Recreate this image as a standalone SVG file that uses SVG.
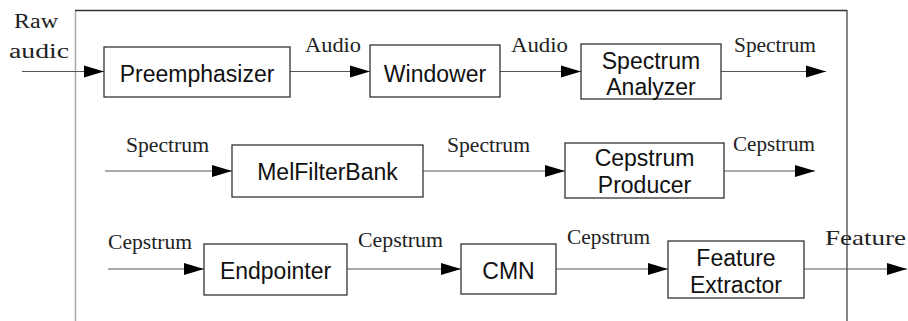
<svg xmlns="http://www.w3.org/2000/svg" width="908" height="321" viewBox="0 0 908 321">
<style>
.box{fill:#fff;stroke:#333;stroke-width:1.3}
.t{font-family:"Liberation Sans",Arial,sans-serif;font-size:23px;fill:#111;text-anchor:middle}
.lbl{font-family:"Liberation Serif","Times New Roman",serif;font-size:20px;fill:#222}
.c{stroke:#555;stroke-width:1.2;fill:none;marker-end:url(#ah)}
</style>
<defs>
<marker id="ah" markerUnits="userSpaceOnUse" markerWidth="20" markerHeight="14" refX="20" refY="7" orient="auto">
<path d="M0,1 L20,7 L0,13 Z" fill="#000"/>
</marker>
</defs>
<rect width="908" height="321" fill="#fff"/>
<g id="frame">
<line x1="75.5" y1="10.5" x2="75.5" y2="321" stroke="#aaa" stroke-width="1.5"/>
<line x1="75" y1="10.5" x2="847" y2="10.5" stroke="#333" stroke-width="1.3"/>
<line x1="847" y1="10" x2="847" y2="321" stroke="#444" stroke-width="1.3"/>
</g>
<g id="connectors">
<line class="c" x1="22" y1="71.5" x2="104" y2="71.5"/>
<line class="c" x1="290" y1="71.5" x2="370" y2="71.5"/>
<line class="c" x1="500" y1="71.5" x2="581" y2="71.5"/>
<line class="c" x1="721" y1="71.5" x2="826" y2="71.5"/>
<line class="c" x1="105" y1="171" x2="232" y2="171"/>
<line class="c" x1="423" y1="171" x2="565" y2="171"/>
<line class="c" x1="724" y1="171" x2="815" y2="171"/>
<line class="c" x1="108" y1="269" x2="204" y2="269"/>
<line class="c" x1="347" y1="269" x2="461" y2="269"/>
<line class="c" x1="556" y1="269" x2="668" y2="269"/>
<line class="c" x1="804" y1="269" x2="907" y2="269"/>
<text class="lbl" x="14" y="28" textLength="44" lengthAdjust="spacingAndGlyphs">Raw</text>
<text class="lbl" x="9" y="58" textLength="60" lengthAdjust="spacingAndGlyphs">audic</text>
<text class="lbl" x="305" y="52" textLength="56" lengthAdjust="spacingAndGlyphs">Audio</text>
<text class="lbl" x="511" y="52" textLength="57" lengthAdjust="spacingAndGlyphs">Audio</text>
<text class="lbl" x="734" y="52" textLength="82" lengthAdjust="spacingAndGlyphs">Spectrum</text>
<text class="lbl" x="126" y="152" textLength="83" lengthAdjust="spacingAndGlyphs">Spectrum</text>
<text class="lbl" x="447" y="152" textLength="83" lengthAdjust="spacingAndGlyphs">Spectrum</text>
<text class="lbl" x="733" y="151" textLength="82" lengthAdjust="spacingAndGlyphs">Cepstrum</text>
<text class="lbl" x="108" y="249" textLength="84" lengthAdjust="spacingAndGlyphs">Cepstrum</text>
<text class="lbl" x="358" y="247" textLength="85" lengthAdjust="spacingAndGlyphs">Cepstrum</text>
<text class="lbl" x="567" y="244" textLength="83" lengthAdjust="spacingAndGlyphs">Cepstrum</text>
<text class="lbl" x="825" y="245" style="font-size:22px" textLength="81" lengthAdjust="spacingAndGlyphs">Feature</text>
</g>
<g id="preemphasizer">
<rect class="box" x="104" y="47" width="186" height="50"/>
<text class="t" x="197" y="82">Preemphasizer</text>
</g>
<g id="windower">
<rect class="box" x="370" y="45" width="130" height="52"/>
<text class="t" x="435" y="82">Windower</text>
</g>
<g id="spectrum-analyzer">
<rect class="box" x="581" y="44" width="140" height="55"/>
<text class="t" x="651" y="69">Spectrum</text>
<text class="t" x="651" y="95">Analyzer</text>
</g>
<g id="melfilterbank">
<rect class="box" x="232" y="145" width="191" height="52"/>
<text class="t" x="327.5" y="180">MelFilterBank</text>
</g>
<g id="cepstrum-producer">
<rect class="box" x="565" y="143" width="159" height="55"/>
<text class="t" x="644.5" y="166">Cepstrum</text>
<text class="t" x="644.5" y="193">Producer</text>
</g>
<g id="endpointer">
<rect class="box" x="204" y="244" width="143" height="51"/>
<text class="t" x="275.5" y="279">Endpointer</text>
</g>
<g id="cmn">
<rect class="box" x="461" y="244" width="95" height="50"/>
<text class="t" x="508.5" y="279">CMN</text>
</g>
<g id="feature-extractor">
<rect class="box" x="668" y="241" width="136" height="57"/>
<text class="t" x="736" y="266">Feature</text>
<text class="t" x="736" y="293">Extractor</text>
</g>
</svg>
